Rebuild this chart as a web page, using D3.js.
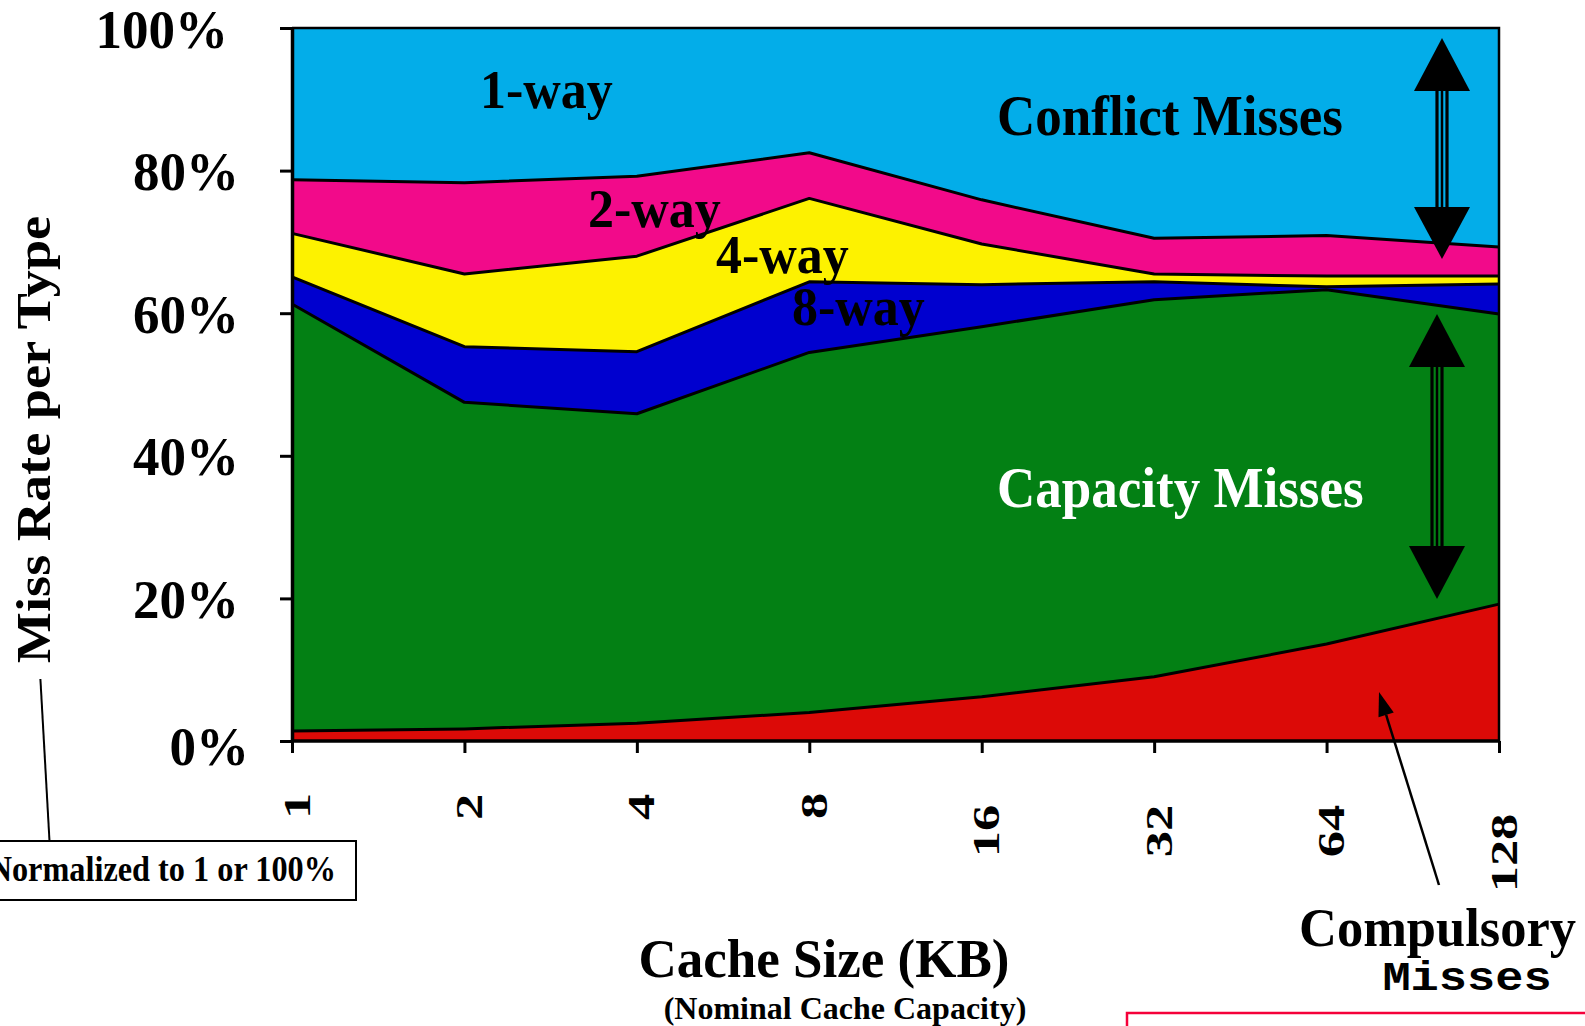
<!DOCTYPE html>
<html>
<head>
<meta charset="utf-8">
<script src="https://cdn.jsdelivr.net/npm/d3@7"></script>
<style>
  html, body { margin: 0; padding: 0; background: #fff; }
  svg { display: block; }
  text { font-family: "Liberation Serif", "Times New Roman", serif; font-weight: bold; }
  text.mono { font-family: "Liberation Mono", "Courier New", monospace; }
</style>
</head>
<body>
<svg id="chart" width="1585" height="1026"></svg>
<script>
// ---------- DATA ----------
const categories = ["1", "2", "4", "8", "16", "32", "64", "128"];
const seriesKeys = ["compulsory", "capacity", "way8", "way4", "way2", "way1"];
// percentage share of each miss type (stacked bottom to top)
const compulsory = [1.4, 1.7, 2.5, 4.0, 6.2, 9.0, 13.6, 19.2];
const capacity   = [59.9, 45.8, 43.4, 50.5, 51.9, 52.9, 49.7, 40.7];
const way8       = [3.8, 7.8, 8.7, 9.9, 5.9, 2.5, 0.4, 4.2];
const way4       = [6.1, 10.2, 13.4, 11.7, 5.7, 1.1, 1.5, 1.1];
const way2       = [7.5, 12.8, 11.2, 6.4, 6.2, 5.0, 5.7, 4.1];
const way1       = [21.3, 21.7, 20.8, 17.5, 24.1, 29.5, 29.1, 30.7];
const yTicks = [0, 20, 40, 60, 80, 100];

// ---------- STYLE / LAYOUT ----------
const colors = {
  compulsory: "#DC0A07", capacity: "#038014", way8: "#0000CF",
  way4: "#FDF200", way2: "#F20A8A", way1: "#03ADE9"
};
const plot = { left: 292, right: 1499, top: 28, bottom: 741 };
const yLabelEnd = { 0: 249, 20: 239, 40: 239, 60: 239, 80: 239, 100: 228 };
const yLabelDy  = { 0: 23, 20: 19, 40: 19, 60: 19, 80: 19, 100: 19 };
const xLabelCenter = [806, 807, 807, 806, 831, 831, 831, 853];

const table = categories.map((c, i) => ({
  cat: c, compulsory: compulsory[i], capacity: capacity[i], way8: way8[i],
  way4: way4[i], way2: way2[i], way1: way1[i]
}));

const svg = d3.select("#chart");
const x = d3.scalePoint().domain(categories).range([plot.left, plot.right]);
const y = d3.scaleLinear().domain([0, 100]).range([plot.bottom, plot.top]);

const stacked = d3.stack().keys(seriesKeys)(table);

const area = d3.area()
  .x(d => x(d.data.cat))
  .y0(d => y(d[0]))
  .y1(d => y(d[1]));
const topLine = d3.line()
  .x(d => x(d.data.cat))
  .y(d => y(d[1]));

svg.append("g").selectAll("path").data(stacked).join("path")
  .attr("d", area)
  .attr("fill", d => colors[d.key]);

svg.append("g").selectAll("path").data(stacked.slice(0, 5)).join("path")
  .attr("d", topLine)
  .attr("fill", "none")
  .attr("stroke", "#000")
  .attr("stroke-width", 3)
  .attr("stroke-linejoin", "round");

// frame (top and right)
svg.append("path")
  .attr("d", `M${plot.left},${plot.top}H${plot.right}V${plot.bottom}`)
  .attr("fill", "none").attr("stroke", "#000").attr("stroke-width", 2.5);

// ---------- AXES ----------
const yAxis = svg.append("g")
  .attr("transform", `translate(${plot.left},0)`)
  .call(d3.axisLeft(y).tickValues(yTicks).tickSize(12).tickSizeOuter(0).tickFormat(d => d + "%"));
yAxis.select(".domain").attr("stroke", "#000").attr("stroke-width", 3.5);
yAxis.selectAll(".tick line").attr("stroke", "#000").attr("stroke-width", 3);
yAxis.selectAll(".tick text")
  .style("font-size", "53px")
  .attr("fill", "#000")
  .attr("text-anchor", "end")
  .attr("x", null)
  .attr("dy", null)
  .attr("transform", d => `translate(${yLabelEnd[d] - plot.left},${yLabelDy[d]}) scale(1,1.04)`);

const xAxis = svg.append("g")
  .attr("transform", `translate(0,${plot.bottom})`)
  .call(d3.axisBottom(x).tickSize(12).tickSizeOuter(0));
xAxis.select(".domain").attr("stroke", "#000").attr("stroke-width", 3.5)
  .attr("d", `M${plot.left},0H${plot.right}`);
xAxis.selectAll(".tick line").attr("stroke", "#000").attr("stroke-width", 3);
xAxis.selectAll(".tick text").remove();
xAxis.selectAll(".tick").append("text")
  .style("font-size", "38px")
  .attr("fill", "#000")
  .attr("text-anchor", "middle")
  .attr("transform", (d, i) => `translate(17,${xLabelCenter[i] - plot.bottom}) rotate(-90) scale(1.38,1)`)
  .text(d => d);

// ---------- TITLES ----------
svg.append("text")
  .attr("transform", "translate(50,439.5) rotate(-90) scale(1.13,1)")
  .attr("text-anchor", "middle").style("font-size", "48px").attr("fill", "#000")
  .text("Miss Rate per Type");

svg.append("text")
  .attr("transform", "translate(824,977) scale(1,1.04)")
  .attr("text-anchor", "middle").style("font-size", "53px").attr("fill", "#000")
  .text("Cache Size (KB)");
svg.append("text")
  .attr("transform", "translate(845,1019)")
  .attr("text-anchor", "middle").style("font-size", "32px").attr("fill", "#000")
  .text("(Nominal Cache Capacity)");

// ---------- ANNOTATIONS ----------
const labels = [
  { t: "1-way", x: 480, y: 108, s: 52, c: "#000" },
  { t: "2-way", x: 588, y: 227, s: 52, c: "#000" },
  { t: "4-way", x: 716, y: 273, s: 52, c: "#000" },
  { t: "8-way", x: 792, y: 325, s: 52, c: "#000" },
  { t: "Conflict Misses", x: 997, y: 134.5, s: 53, c: "#000" },
  { t: "Capacity Misses", x: 997, y: 507, s: 53, c: "#fff" },
  { t: "Compulsory", x: 1299, y: 946, s: 52.5, c: "#000" }
];
svg.append("g").selectAll("text").data(labels).join("text")
  .attr("transform", d => `translate(${d.x},${d.y}) scale(1,1.06)`)
  .style("font-size", d => d.s + "px").attr("fill", d => d.c)
  .text(d => d.t);

svg.append("text")
  .attr("class", "mono")
  .attr("transform", "translate(1467,990) scale(1,0.87)")
  .attr("text-anchor", "middle")
  .style("font-size", "47px").attr("fill", "#000")
  .text("Misses");

// Normalized box
svg.append("rect")
  .attr("x", -10).attr("y", 841).attr("width", 366).attr("height", 59)
  .attr("fill", "#fff").attr("stroke", "#000").attr("stroke-width", 2);
svg.append("text")
  .attr("transform", "translate(336,881) scale(1,1.12)")
  .attr("text-anchor", "end").style("font-size", "32.3px").attr("fill", "#000")
  .text("Normalized to 1 or 100%");
svg.append("line")
  .attr("x1", 40.4).attr("y1", 679).attr("x2", 49.5).attr("y2", 841)
  .attr("stroke", "#000").attr("stroke-width", 2);

// Compulsory pointer arrow
(function() {
  const tail = [1439, 885], tip = [1379, 692];
  const ang = Math.atan2(tip[1] - tail[1], tip[0] - tail[0]);
  const L = 24, W = 8;
  const bx = tip[0] - L * Math.cos(ang), by = tip[1] - L * Math.sin(ang);
  svg.append("line")
    .attr("x1", tail[0]).attr("y1", tail[1]).attr("x2", bx).attr("y2", by)
    .attr("stroke", "#000").attr("stroke-width", 2.5);
  const px = -Math.sin(ang), py = Math.cos(ang);
  svg.append("path")
    .attr("d", `M${tip[0]},${tip[1]}L${bx + W * px},${by + W * py}L${bx - W * px},${by - W * py}Z`)
    .attr("fill", "#000");
})();

// double-headed arrows
function doubleArrow(cx, tipTop, baseTop, baseBot, tipBot, hw) {
  const g = svg.append("g");
  [-5, 0, 5].forEach(o => {
    g.append("line")
      .attr("x1", cx + o).attr("x2", cx + o)
      .attr("y1", baseTop).attr("y2", baseBot)
      .attr("stroke", "#000").attr("stroke-width", o === 0 ? 2.5 : 3.2);
  });
  g.append("path").attr("d", `M${cx},${tipTop}L${cx - hw},${baseTop}L${cx + hw},${baseTop}Z`).attr("fill", "#000");
  g.append("path").attr("d", `M${cx},${tipBot}L${cx - hw},${baseBot}L${cx + hw},${baseBot}Z`).attr("fill", "#000");
}
doubleArrow(1442, 38, 91, 207, 259, 28);
doubleArrow(1437, 314, 367, 546, 599, 28);

// red rectangle at the bottom right
svg.append("rect")
  .attr("x", 1127).attr("y", 1013).attr("width", 500).attr("height", 60)
  .attr("fill", "none").attr("stroke", "#F5003A").attr("stroke-width", 2.5);
</script>
</body>
</html>
